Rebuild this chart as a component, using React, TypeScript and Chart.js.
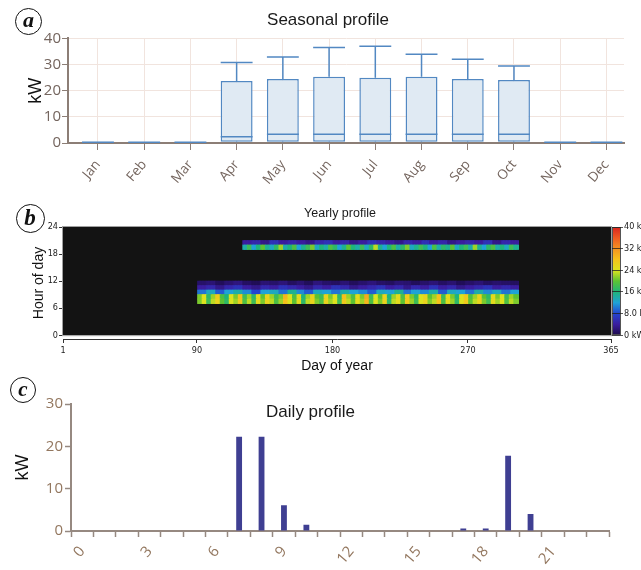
import React, { useEffect, useRef } from "react";
import { Chart, registerables } from "chart.js";

Chart.register(...registerables);

// ---------------- Panel a: seasonal profile (box plot) ----------------
const MONTHS = ["Jan", "Feb", "Mar", "Apr", "May", "Jun", "Jul", "Aug", "Sep", "Oct", "Nov", "Dec"];
const BOX_MIN = [0.3, 0.3, 0.3, 0.3, 0.3, 0.3, 0.3, 0.3, 0.3, 0.3, 0.3, 0.3];
const BOX_Q1 = [0.3, 0.3, 0.3, 0.5, 0.5, 0.5, 0.5, 0.5, 0.5, 0.5, 0.3, 0.3];
const BOX_MEDIAN = [0.3, 0.3, 0.3, 2.4, 3.3, 3.3, 3.3, 3.3, 3.3, 3.3, 0.3, 0.3];
const BOX_Q3 = [0.3, 0.3, 0.3, 23.7, 24.5, 25.3, 25.0, 25.3, 24.5, 24.1, 0.3, 0.3];
const BOX_MAX = [0.3, 0.3, 0.3, 30.8, 32.9, 36.5, 37.0, 33.9, 32.0, 29.4, 0.3, 0.3];
const SEASON_Y_TICKS = [0, 10, 20, 30, 40];

// ---------------- Panel b: yearly profile (heat map) ----------------
const DAY_TICKS = [1, 90, 180, 270, 365];
const HOUR_TICKS = [0, 6, 12, 18, 24];
const COLORBAR_TICKS = [0, 8, 16, 24, 32, 40];
const COLORBAR_LABELS = ["0 kW", "8.0 kW", "16 kW", "24 kW", "32 kW", "40 kW"];
const MORNING_START = 91;
const MORNING_END = 303;
const EVENING_START = 121;
const EVENING_END = 303;
// kW per hour-of-day row, sampled along the band (left -> right)
const MORNING_H7 = [21, 24, 18, 23, 26, 20, 17, 24, 22, 27, 19, 23, 18, 25, 21, 26, 23, 19, 22, 28, 24, 20, 25, 17, 23, 26, 21, 19, 26, 22, 24, 18, 27, 23, 20, 25, 22, 29, 19, 24, 21, 26, 17, 23, 25, 20, 27, 22, 18, 24, 26, 21, 23, 28, 19, 25, 22, 17, 24, 27, 20, 23, 26, 21, 18, 25, 22, 24, 19, 23, 21];
const MORNING_H8 = [21, 24, 17, 22, 27, 19, 16, 24, 21, 28, 18, 22, 17, 25, 20, 26, 22, 18, 21, 29, 24, 19, 25, 16, 22, 26, 20, 18, 26, 21, 24, 17, 28, 22, 19, 25, 21, 30, 18, 24, 20, 26, 16, 22, 25, 19, 27, 21, 17, 24, 26, 20, 22, 28, 18, 25, 21, 16, 24, 27, 19, 22, 26, 20, 17, 25, 21, 24, 18, 22, 20];
const MORNING_H9 = [10, 13, 9, 12, 14, 11, 8, 12, 13, 10, 15, 11, 9, 13, 12, 10, 14, 12, 11, 9, 13, 12, 15, 10, 12, 11, 14, 9, 13, 12, 10, 14, 11, 13, 10, 12];
const MORNING_H10 = [4, 5, 3, 5, 6, 4, 3, 5, 4, 6, 5, 4, 3, 5, 4, 6, 5, 3, 4, 5, 6, 4, 5, 3, 5, 4, 6, 4, 5, 3, 4, 5, 6, 4, 5, 4];
const MORNING_H11 = [1.5, 2, 0.8, 1.8, 2.5, 1.2, 0.6, 2, 1.5, 2.2, 1, 1.8, 0.8, 2.4, 1.5, 1.2, 2, 0.9, 1.6, 2.3, 1.4, 1, 2, 1.7, 0.8, 1.5, 2.1, 1.2, 1.8, 0.7, 1.4, 2, 1.1, 1.6, 1.3, 1];
const EVENING_H19 = [14, 18, 12, 16, 20, 15, 13, 17, 22, 14, 16, 19, 12, 15, 18, 21, 13, 16, 14, 19, 17, 12, 15, 20, 16, 14, 18, 13, 17, 23, 15, 12, 16, 19, 14, 17, 21, 13, 15, 18, 16, 12, 19, 14, 17, 15, 20, 13, 16, 18, 14, 22, 15, 12, 17, 19, 14, 16, 13, 18, 15];
const EVENING_H20 = [4, 5, 3, 6, 4, 5, 4, 3, 5, 6, 4, 5, 3, 4, 6, 5, 4, 3, 5, 4, 6, 4, 5, 3, 4, 5, 4, 6, 3, 5, 4];

// ---------------- Panel c: daily profile ----------------
const HOURS = ["0", "1", "2", "3", "4", "5", "6", "7", "8", "9", "10", "11", "12", "13", "14", "15", "16", "17", "18", "19", "20", "21", "22", "23"];
const DAILY_KW = [0, 0, 0, 0, 0, 0, 0, 22.3, 22.3, 6.1, 1.5, 0, 0, 0, 0, 0, 0, 0.6, 0.6, 17.8, 4.0, 0, 0, 0];
const DAILY_Y_TICKS = [0, 10, 20, 30];

// ---------------- styles ----------------
const FONT_UI = "'Open Sans', 'Noto Sans', sans-serif";
const FONT_TITLE = "'Liberation Sans', Arial, sans-serif";
const FONT_NARROW = "'Liberation Sans Narrow', 'DejaVu Sans Condensed', 'Liberation Sans', sans-serif";
const AXIS_A = "#8c7e76";
const GRID_A = "#f1e4de";
const TICK_TXT_A = "#74655e";
const BOX_EDGE = "#5288c2";
const BOX_FILL = "#e0eaf3";
const AXIS_C = "#968981";
const TICK_TXT_C = "#93775f";
const BAR_C = "#3f3f92";
const CMAP_STOPS = [0, 4, 8, 12, 16, 20, 24, 28, 32, 36, 40];
const CMAP_COLORS = ["#1c0b4a", "#3a1d9e", "#2444d0", "#1fa3d6", "#1fb57a", "#5cc233", "#dde31f", "#f5c21c", "#f39221", "#ee5a22", "#d9241f"];
const Y_GAP = 0.85; // hours of empty space between heat map and its x axis

function hexToRgb(h: string) {
  const n = parseInt(h.slice(1), 16);
  return [(n >> 16) & 255, (n >> 8) & 255, n & 255];
}
function kwColor(v: number) {
  const t = Math.max(CMAP_STOPS[0], Math.min(CMAP_STOPS[CMAP_STOPS.length - 1], v));
  for (let i = 0; i < CMAP_STOPS.length - 1; i++) {
    if (t <= CMAP_STOPS[i + 1]) {
      const f = (t - CMAP_STOPS[i]) / (CMAP_STOPS[i + 1] - CMAP_STOPS[i]);
      const a = hexToRgb(CMAP_COLORS[i]);
      const b = hexToRgb(CMAP_COLORS[i + 1]);
      const c = a.map((x, k) => Math.round(x + (b[k] - x) * f));
      return `rgb(${c[0]},${c[1]},${c[2]})`;
    }
  }
  return CMAP_COLORS[CMAP_COLORS.length - 1];
}

type Row = { hour: number; start: number; end: number; values: number[] };
const HEAT_ROWS: Row[] = [
  { hour: 7, start: MORNING_START, end: MORNING_END, values: MORNING_H7 },
  { hour: 8, start: MORNING_START, end: MORNING_END, values: MORNING_H8 },
  { hour: 9, start: MORNING_START, end: MORNING_END, values: MORNING_H9 },
  { hour: 10, start: MORNING_START, end: MORNING_END, values: MORNING_H10 },
  { hour: 11, start: MORNING_START, end: MORNING_END, values: MORNING_H11 },
  { hour: 19, start: EVENING_START, end: EVENING_END, values: EVENING_H19 },
  { hour: 20, start: EVENING_START, end: EVENING_END, values: EVENING_H20 },
];
function rowCells(row: Row) {
  const cells: { x: number; y: number[]; v: number }[] = [];
  const n = row.end - row.start + 1;
  for (let d = row.start; d <= row.end; d++) {
    const idx = Math.min(row.values.length - 1, Math.floor(((d - row.start) * row.values.length) / n));
    cells.push({ x: d, y: [row.hour, row.hour + 1], v: row.values[idx] });
  }
  return cells;
}

const boxWhiskers = {
  id: "boxWhiskers",
  afterDatasetsDraw(chart: any) {
    const meta = chart.getDatasetMeta(0);
    const y = chart.scales.y;
    const ctx = chart.ctx;
    ctx.save();
    ctx.strokeStyle = BOX_EDGE;
    ctx.lineWidth = 1.5;
    meta.data.forEach((bar: any, i: number) => {
      const x = bar.x;
      const half = bar.width / 2;
      ctx.beginPath();
      if (BOX_MAX[i] > BOX_Q3[i]) {
        const yq3 = y.getPixelForValue(BOX_Q3[i]);
        const ymax = y.getPixelForValue(BOX_MAX[i]);
        ctx.moveTo(x, yq3);
        ctx.lineTo(x, ymax);
        ctx.moveTo(x - half, ymax);
        ctx.lineTo(x + half, ymax);
      }
      if (BOX_MIN[i] < BOX_Q1[i]) {
        const yq1 = y.getPixelForValue(BOX_Q1[i]);
        const ymin = y.getPixelForValue(BOX_MIN[i]);
        ctx.moveTo(x, yq1);
        ctx.lineTo(x, ymin);
      }
      const ymed = y.getPixelForValue(BOX_MEDIAN[i]);
      ctx.moveTo(x - half, ymed);
      ctx.lineTo(x + half, ymed);
      ctx.stroke();
    });
    ctx.restore();
  },
};

const heatFrame = {
  id: "heatFrame",
  beforeDraw(chart: any) {
    const { ctx } = chart;
    const { x, y, y2 } = chart.scales;
    const l = x.getPixelForValue(DAY_TICKS[0]);
    const r = x.getPixelForValue(DAY_TICKS[DAY_TICKS.length - 1]);
    const t = y.getPixelForValue(HOUR_TICKS[HOUR_TICKS.length - 1]);
    const b = y.getPixelForValue(HOUR_TICKS[0]);
    ctx.save();
    ctx.fillStyle = "#131313";
    ctx.fillRect(l, t, r - l, b - t);
    const c0 = y2.getPixelForValue(COLORBAR_TICKS[0]);
    const c1 = y2.getPixelForValue(COLORBAR_TICKS[COLORBAR_TICKS.length - 1]);
    const g = ctx.createLinearGradient(0, c0, 0, c1);
    const maxKw = CMAP_STOPS[CMAP_STOPS.length - 1];
    CMAP_STOPS.forEach((s, i) => g.addColorStop(s / maxKw, CMAP_COLORS[i]));
    ctx.fillStyle = g;
    ctx.fillRect(r + 1, c1, 8, c0 - c1);
    ctx.strokeStyle = "#555";
    ctx.lineWidth = 1;
    ctx.strokeRect(r + 1.5, c1 + 0.5, 8, c0 - c1 - 1);
    ctx.restore();
  },
  afterDatasetsDraw(chart: any) {
    const { ctx } = chart;
    const { x, y } = chart.scales;
    const l = x.getPixelForValue(DAY_TICKS[0]);
    const r = x.getPixelForValue(DAY_TICKS[DAY_TICKS.length - 1]);
    const t = y.getPixelForValue(HOUR_TICKS[HOUR_TICKS.length - 1]);
    const b = y.getPixelForValue(HOUR_TICKS[0]);
    ctx.save();
    ctx.strokeStyle = "#a0a0a0";
    ctx.lineWidth = 1;
    ctx.strokeRect(l - 0.5, t - 0.5, r - l + 1, b - t + 1);
    ctx.restore();
  },
};

function configA(): any {
  return {
    type: "bar",
    data: {
      datasets: [
        {
          data: MONTHS.map((_, i) => ({ x: i, y: [BOX_Q1[i], BOX_Q3[i]] })),
          backgroundColor: BOX_FILL,
          borderColor: BOX_EDGE,
          borderWidth: 1.5,
          borderSkipped: false,
          barPercentage: 0.69,
          categoryPercentage: 1,
        },
      ],
    },
    options: {
      animation: false,
      responsive: false,
      events: [],
      layout: { padding: { left: 32, right: 17, top: 0, bottom: 0 } },
      plugins: {
        legend: { display: false },
        tooltip: { enabled: false },
        title: {
          display: true,
          text: "Seasonal profile",
          color: "#1a1a1a",
          font: { family: FONT_TITLE, size: 17, weight: "normal" },
          padding: { top: 10, bottom: 8 },
        },
      },
      scales: {
        x: {
          type: "linear",
          min: -0.648,
          max: 11.38,
          offset: false,
          afterBuildTicks: (s: any) => {
            s.ticks = MONTHS.map((_, i) => ({ value: i }));
          },
          afterFit: (s: any) => {
            s.height = 52;
          },
          ticks: {
            callback: (v: any) => MONTHS[v],
            autoSkip: false,
            minRotation: 50,
            maxRotation: 50,
            padding: 7,
            color: TICK_TXT_A,
            font: { family: FONT_UI, size: 13.5 },
          },
          grid: { offset: false, color: GRID_A, tickColor: AXIS_A, tickLength: 7 },
          border: { color: AXIS_A, width: 2 },
        },
        y: {
          min: 0,
          max: 40,
          afterBuildTicks: (s: any) => {
            s.ticks = SEASON_Y_TICKS.map((v) => ({ value: v }));
          },
          afterFit: (s: any) => {
            s.width = 36;
          },
          ticks: { padding: 1, color: TICK_TXT_A, font: { family: FONT_UI, size: 15 } },
          grid: { color: GRID_A, tickColor: AXIS_A, tickLength: 6 },
          border: { color: AXIS_A, width: 2 },
          title: {
            display: true,
            text: "kW",
            color: "#111",
            font: { family: FONT_TITLE, size: 18 },
            padding: { top: -7, bottom: 0 },
          },
        },
      },
    },
    plugins: [boxWhiskers],
  };
}

function configB(): any {
  return {
    type: "bar",
    data: {
      datasets: HEAT_ROWS.map((row) => ({
        data: rowCells(row),
        grouped: false,
        barThickness: 2,
        borderWidth: 0,
        backgroundColor: (c: any) => (c.raw ? kwColor(c.raw.v) : "#000"),
      })),
    },
    options: {
      animation: false,
      responsive: false,
      events: [],
      layout: { padding: 0 },
      plugins: {
        legend: { display: false },
        tooltip: { enabled: false },
        title: {
          display: true,
          text: "Yearly profile",
          color: "#1a1a1a",
          font: { family: FONT_TITLE, size: 12.5, weight: "normal" },
          padding: { top: 6, bottom: 6 },
        },
      },
      scales: {
        x: {
          type: "linear",
          min: DAY_TICKS[0],
          max: DAY_TICKS[DAY_TICKS.length - 1],
          offset: false,
          afterBuildTicks: (s: any) => {
            s.ticks = DAY_TICKS.map((v) => ({ value: v }));
          },
          afterFit: (s: any) => {
            s.height = 36;
          },
          ticks: { autoSkip: false, maxRotation: 0, padding: 2, color: "#222", font: { family: FONT_NARROW, size: 9 } },
          grid: { offset: false, drawOnChartArea: false, tickLength: 4, tickColor: "#333" },
          border: { color: "#333", width: 1 },
          title: {
            display: true,
            text: "Day of year",
            color: "#111",
            font: { family: FONT_TITLE, size: 14 },
            padding: { top: 0, bottom: 0 },
          },
        },
        y: {
          min: -Y_GAP,
          max: HOUR_TICKS[HOUR_TICKS.length - 1],
          afterBuildTicks: (s: any) => {
            s.ticks = HOUR_TICKS.map((v) => ({ value: v }));
          },
          afterFit: (s: any) => {
            s.width = 63;
          },
          ticks: { padding: 1, color: "#222", font: { family: FONT_NARROW, size: 9 } },
          grid: { drawOnChartArea: false, tickLength: 4, tickColor: "#333" },
          border: { display: false },
          title: {
            display: true,
            text: "Hour of day",
            color: "#111",
            font: { family: FONT_TITLE, size: 14 },
            padding: { top: 31, bottom: 0 },
          },
        },
        y2: {
          position: "right",
          min: (-Y_GAP * COLORBAR_TICKS[COLORBAR_TICKS.length - 1]) / HOUR_TICKS[HOUR_TICKS.length - 1],
          max: COLORBAR_TICKS[COLORBAR_TICKS.length - 1],
          afterBuildTicks: (s: any) => {
            s.ticks = COLORBAR_TICKS.map((v) => ({ value: v }));
          },
          afterFit: (s: any) => {
            s.width = 69;
          },
          ticks: {
            callback: (_v: any, i: number) => COLORBAR_LABELS[i],
            padding: 1,
            color: "#222",
            font: { family: FONT_NARROW, size: 9 },
          },
          grid: { drawOnChartArea: false, tickLength: 12, tickColor: "rgba(30,30,30,0.75)" },
          border: { display: false },
        },
      },
    },
    plugins: [heatFrame],
  };
}

function configC(): any {
  return {
    type: "bar",
    data: {
      labels: HOURS,
      datasets: [
        {
          data: DAILY_KW,
          backgroundColor: BAR_C,
          borderWidth: 0,
          barPercentage: 0.26,
          categoryPercentage: 1,
        },
      ],
    },
    options: {
      animation: false,
      responsive: false,
      events: [],
      layout: { padding: { left: 12, right: 32, top: 0, bottom: 0 } },
      plugins: {
        legend: { display: false },
        tooltip: { enabled: false },
        title: {
          display: true,
          text: "Daily profile",
          color: "#1a1a1a",
          font: { family: FONT_TITLE, size: 17, weight: "normal" },
          padding: { top: 22.4, bottom: -18.6 },
        },
      },
      scales: {
        x: {
          afterFit: (s: any) => {
            s.height = 39;
          },
          ticks: {
            callback: (_v: any, i: number) => (i % 3 === 0 ? HOURS[i] : ""),
            autoSkip: false,
            minRotation: 50,
            maxRotation: 50,
            padding: 6,
            color: TICK_TXT_C,
            font: { family: FONT_UI, size: 15 },
          },
          grid: { offset: true, drawOnChartArea: false, tickLength: 6, tickColor: AXIS_C, tickWidth: 1.5 },
          border: { color: AXIS_C, width: 2 },
        },
        y: {
          min: 0,
          max: 30,
          afterBuildTicks: (s: any) => {
            s.ticks = DAILY_Y_TICKS.map((v) => ({ value: v }));
          },
          afterFit: (s: any) => {
            s.width = 59;
          },
          ticks: { padding: 2, color: TICK_TXT_C, font: { family: FONT_UI, size: 15 } },
          grid: { drawOnChartArea: false, tickLength: 6, tickColor: AXIS_C, tickWidth: 1.5 },
          border: { color: AXIS_C, width: 2 },
          title: {
            display: true,
            text: "kW",
            color: "#111",
            font: { family: FONT_TITLE, size: 18 },
            padding: { top: 0, bottom: 0 },
          },
        },
      },
    },
  };
}

function Badge({ letter, cx, cy, d }: { letter: string; cx: number; cy: number; d: number }) {
  return (
    <div
      style={{
        position: "absolute",
        left: cx - d / 2,
        top: cy - d / 2,
        width: d,
        height: d,
        boxSizing: "border-box",
        border: "1.6px solid #111",
        borderRadius: "50%",
        display: "flex",
        alignItems: "center",
        justifyContent: "center",
        fontFamily: "'Liberation Serif', 'DejaVu Serif', serif",
        fontStyle: "italic",
        fontWeight: "bold",
        fontSize: Math.round(d * 0.8),
        lineHeight: 1,
        color: "#111",
        paddingBottom: 2,
      }}
    >
      {letter}
    </div>
  );
}

export default function App() {
  const aRef = useRef<HTMLCanvasElement>(null);
  const bRef = useRef<HTMLCanvasElement>(null);
  const cRef = useRef<HTMLCanvasElement>(null);

  useEffect(() => {
    const charts = [
      new Chart(aRef.current as HTMLCanvasElement, configA()),
      new Chart(bRef.current as HTMLCanvasElement, configB()),
      new Chart(cRef.current as HTMLCanvasElement, configC()),
    ];
    return () => charts.forEach((c) => c.destroy());
  }, []);

  return (
    <div
      style={{
        position: "absolute",
        left: 0,
        top: 0,
        width: 641,
        height: 570,
        overflow: "hidden",
        background: "#fff",
      }}
    >
      <canvas ref={aRef} width={641} height={195} style={{ position: "absolute", left: 0, top: 0 }} />
      <canvas ref={bRef} width={680} height={175} style={{ position: "absolute", left: 0, top: 200 }} />
      <canvas ref={cRef} width={641} height={190} style={{ position: "absolute", left: 0, top: 380 }} />
      <Badge letter="a" cx={28.5} cy={21} d={27} />
      <Badge letter="b" cx={30} cy={218} d={29} />
      <Badge letter="c" cx={23} cy={390} d={26} />
    </div>
  );
}
